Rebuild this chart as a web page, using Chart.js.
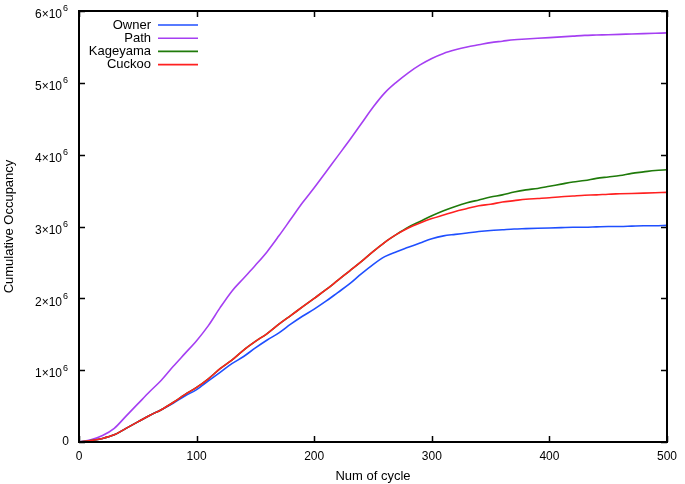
<!DOCTYPE html>
<html>
<head>
<meta charset="utf-8">
<script src="https://cdn.jsdelivr.net/npm/chart.js@4.4.1/dist/chart.umd.min.js"></script>
<style>
  html, body { margin: 0; padding: 0; background: #fff; }
  #wrap { width: 685px; height: 484px; }
</style>
</head>
<body>
<div id="wrap"><canvas id="grafico"></canvas></div>
<script>
// ciclos (eje x)
const ciclos = [0, 10, 20, 30, 40, 50, 60, 70, 80, 90,
    100, 110, 120, 130, 140, 150, 160, 170, 180, 190,
    200, 210, 220, 230, 240, 250, 260, 270, 280, 290,
    300, 310, 320, 330, 340, 350, 360, 370, 380, 390,
    400, 410, 420, 430, 440, 450, 460, 470, 480, 490, 500];

// valores en millones
const owner = [0, 0.02, 0.05, 0.10, 0.19, 0.28, 0.37, 0.45, 0.54, 0.64,
    0.73, 0.85, 0.97, 1.09, 1.19, 1.31, 1.42, 1.52, 1.64, 1.75,
    1.85, 1.96, 2.08, 2.20, 2.34, 2.47, 2.58, 2.65, 2.71, 2.77,
    2.83, 2.87, 2.89, 2.91, 2.93, 2.945, 2.955, 2.965, 2.97, 2.975,
    2.98, 2.985, 2.99, 2.99, 2.995, 3.0, 3.0, 3.005, 3.01, 3.01, 3.015];

const path = [0, 0.03, 0.09, 0.19, 0.36, 0.53, 0.70, 0.86, 1.05, 1.23,
    1.41, 1.62, 1.87, 2.10, 2.28, 2.46, 2.65, 2.87, 3.10, 3.33,
    3.54, 3.76, 3.98, 4.20, 4.43, 4.66, 4.86, 5.01, 5.14, 5.25,
    5.34, 5.41, 5.46, 5.50, 5.53, 5.56, 5.58, 5.60, 5.61, 5.62,
    5.63, 5.64, 5.65, 5.66, 5.665, 5.67, 5.675, 5.68, 5.685, 5.69, 5.695];

const kageyama = [0, 0.02, 0.05, 0.10, 0.19, 0.28, 0.37, 0.45, 0.55, 0.66,
    0.76, 0.88, 1.02, 1.14, 1.28, 1.40, 1.51, 1.64, 1.76, 1.88,
    2.00, 2.12, 2.25, 2.38, 2.51, 2.65, 2.78, 2.89, 2.99, 3.07,
    3.15, 3.22, 3.28, 3.33, 3.37, 3.41, 3.44, 3.48, 3.51, 3.53,
    3.56, 3.59, 3.62, 3.64, 3.67, 3.69, 3.71, 3.74, 3.76, 3.78, 3.79];

const cuckoo = [0, 0.02, 0.05, 0.10, 0.19, 0.28, 0.37, 0.45, 0.55, 0.66,
    0.76, 0.88, 1.02, 1.14, 1.28, 1.40, 1.51, 1.64, 1.76, 1.88,
    2.00, 2.12, 2.25, 2.38, 2.51, 2.65, 2.78, 2.89, 2.98, 3.05,
    3.11, 3.16, 3.21, 3.25, 3.29, 3.31, 3.34, 3.36, 3.38, 3.39,
    3.40, 3.415, 3.425, 3.435, 3.44, 3.45, 3.455, 3.46, 3.465, 3.47, 3.475];

// etiquetas del eje y (base y exponente)
const etiquetasY = ['0', '1×10^6', '2×10^6', '3×10^6', '4×10^6', '5×10^6', '6×10^6'];

const fuente = "'Liberation Sans', Arial, sans-serif";

const aPuntos = (serie) => ciclos.map((c, i) => ({ x: c, y: serie[i] * 1e6 }));

const serieLinea = (label, serie, color, orden) => ({
    label,
    data: aPuntos(serie),
    borderColor: color,
    backgroundColor: color,
    borderWidth: 1.6,
    pointRadius: 0,
    cubicInterpolationMode: 'monotone',
    order: orden
});

// Marco con marcas hacia dentro (estilo gnuplot)
const marcoPlugin = {
    id: 'marco',
    afterDatasetsDraw(chart) {
        const { ctx, chartArea: a, scales: { x, y } } = chart;
        const largo = 6;
        ctx.save();
        ctx.strokeStyle = '#000';
        ctx.lineWidth = 1.5;
        ctx.beginPath();
        x.ticks.forEach((t, i) => {
            const px = Math.round(x.getPixelForTick(i)) + 0.5;
            ctx.moveTo(px, a.bottom); ctx.lineTo(px, a.bottom - largo);
            ctx.moveTo(px, a.top); ctx.lineTo(px, a.top + largo);
        });
        y.ticks.forEach((t, i) => {
            const py = Math.round(y.getPixelForTick(i)) + 0.5;
            ctx.moveTo(a.left, py); ctx.lineTo(a.left + largo, py);
            ctx.moveTo(a.right, py); ctx.lineTo(a.right - largo, py);
        });
        ctx.stroke();
        ctx.lineWidth = 2;
        ctx.strokeRect(a.left, a.top, a.right - a.left, a.bottom - a.top);
        ctx.restore();
    }
};

// Etiquetas del eje y con exponente elevado
const etiquetasPlugin = {
    id: 'etiquetasY',
    afterDraw(chart) {
        const { ctx, chartArea: a, scales: { y } } = chart;
        ctx.save();
        ctx.fillStyle = '#000';
        ctx.textAlign = 'right';
        ctx.textBaseline = 'middle';
        y.ticks.forEach((t, i) => {
            const py = y.getPixelForTick(i);
            const texto = etiquetasY[Math.round(t.value / 1e6)];
            const [base, exp] = texto.split('^');
            if (exp) {
                ctx.font = '9px ' + fuente;
                ctx.fillText(exp, a.left - 11, py - 2);
                ctx.font = '12px ' + fuente;
                ctx.fillText(base, a.left - 17, py + 4);
            } else {
                ctx.font = '12px ' + fuente;
                ctx.fillText(base, a.left - 10, py);
            }
        });
        ctx.restore();
    }
};

// Leyenda: texto alineado a la derecha y muestra de línea
const leyendaPlugin = {
    id: 'leyenda',
    afterDraw(chart) {
        const { ctx, chartArea: a } = chart;
        const xTexto = a.left + 72;
        const x1 = a.left + 79;
        const x2 = a.left + 119;
        ctx.save();
        ctx.font = '13px ' + fuente;
        ctx.textAlign = 'right';
        ctx.textBaseline = 'middle';
        chart.data.datasets.forEach((ds, i) => {
            const yy = a.top + 14 + i * 13.2;
            ctx.fillStyle = '#000';
            ctx.fillText(ds.label, xTexto, yy);
            ctx.strokeStyle = ds.borderColor;
            ctx.lineWidth = 1.6;
            ctx.beginPath();
            ctx.moveTo(x1, yy);
            ctx.lineTo(x2, yy);
            ctx.stroke();
        });
        ctx.restore();
    }
};

const ctx = document.getElementById('grafico').getContext('2d');

new Chart(ctx, {
    type: 'line',
    data: {
        datasets: [
            serieLinea('Owner', owner, '#1f4fff', 3),
            serieLinea('Path', path, '#a53ff2', 2),
            serieLinea('Kageyama', kageyama, '#1f7a0a', 1),
            serieLinea('Cuckoo', cuckoo, '#ff2020', 0)
        ]
    },
    options: {
        responsive: true,
        maintainAspectRatio: false,
        animation: false,
        layout: { padding: { top: 11, right: 18, left: 0, bottom: 0 } },
        plugins: {
            legend: { display: false },
            tooltip: { enabled: false }
        },
        scales: {
            x: {
                type: 'linear',
                min: 0,
                max: 500,
                afterFit: (s) => { s.height = 42; },
                grid: { display: false, drawTicks: false },
                border: { display: false },
                ticks: {
                    stepSize: 100,
                    padding: 7,
                    color: '#000',
                    maxRotation: 0,
                    font: { family: fuente, size: 12 }
                },
                title: {
                    display: true,
                    text: 'Num of cycle',
                    color: '#000',
                    padding: { top: 0, bottom: 0 },
                    font: { family: fuente, size: 13 }
                }
            },
            y: {
                type: 'linear',
                min: 0,
                max: 6e6,
                afterFit: (s) => { s.width = 79; },
                grid: { display: false, drawTicks: false },
                border: { display: false },
                ticks: {
                    stepSize: 1e6,
                    display: false
                },
                title: {
                    display: true,
                    text: 'Cumulative Occupancy',
                    color: '#000',
                    padding: { top: 2, bottom: 0 },
                    font: { family: fuente, size: 13 }
                }
            }
        }
    },
    plugins: [marcoPlugin, etiquetasPlugin, leyendaPlugin]
});
</script>
</body>
</html>
